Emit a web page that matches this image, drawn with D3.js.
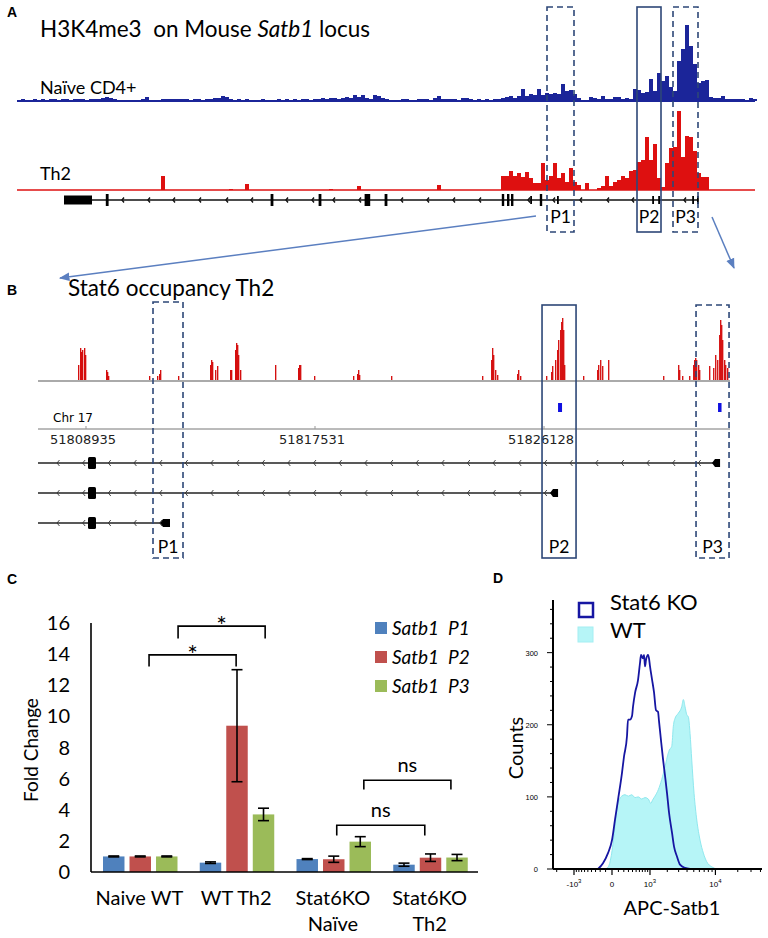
<!DOCTYPE html>
<html><head><meta charset="utf-8">
<script src="https://cdn.jsdelivr.net/npm/d3@7"></script>
<style>body{margin:0;background:#fff}svg{display:block}</style>
</head><body>
<svg id="c" width="768" height="938"></svg>
<script>
// ---------------- DATA ----------------
// Panel A: H3K4me3 signal, 1 bin = 1 locus unit
const naiveH3K4me3 = [1,2,1,1,2,1,2,1,2,2, 1,2,2,1,2,2,2,1,2,2, 2,3,4,3,2,1,1,1,1,1, 1,2,4,1,1,1,2,2,2,2,
 2,2,2,1,2,2,1,2,2,3, 3,5,4,2,1,2,1,2,1,1, 1,2,1,1,1,2,1,2,1,2, 1,2,2,1,2,2,3,2,3,3, 2,3,4,3,6,4,6,3,2,6,
 5,3,2,1,1,1,2,2,1,1, 2,2,2,1,3,5,2,2,2,2, 1,3,3,2,1,2,
 1,2,1,2,2,3,4,5,3,5, 12,5,7,6,12,6,8,7,8,7, 17,10,11,7,3,1,1,4,3,2, 5,2,2,4,4,2,3,2,12,11,
 8,9,22,10,28,20,25,14,10,40, 52,76,55,37,18,20,21,4,3,3, 5,2,2,2,2,2,1,3,2];
const th2H3K4me3 = [0,0,0,0,0,0,0,0,0,0, 0,0,0,0,0,0,0,0,0,0, 0,0,0,0,0,0,0,0,0,0, 0,0,0,0,0,0,14,0,0,0,
 0,0,0,0,0,0,0,0,0,0, 0,0,0,1,0,0,0,6,0,0, 0,0,0,0,0,0,0,0,0,0, 0,0,0,0,0,0,0,0,1,0,
 0,0,0,0,0,4,0,0,0,0, 0,0,0,0,0,0,0,0,0,0, 0,0,0,0,0,5,0,0,0,0, 0,0,0,0,0,0,0,0,0,0,
 0,14,14,19,14,17,13,18,12,7, 7,27,10,14,27,12,17,8,22,8, 5,0,7,0,0,2,4,14,4,8,
 10,14,12,19,20,28,30,53,30,46, 12,3,27,42,43,79,33,54,53,39, 17,13,13,0,0,0,0,0,0,0, 0,0,0,0,0];
// gene model (locus units): [start, end, kind]
const locusExons = [[11.75,18.75,"utr"],[22.2,22.9,"tall"],[63.4,64.1,"tall"],[75.4,76.1,"tall"],[86.9,88.3,"tall"],
 [91.9,92.6,"tall"],[121.2,121.8,"tall"],[122.5,123.1,"tall"],[123.5,124.1,"tall"],[130.7,131.3,"tall"],
 [128.3,128.7,"mid"],[135.0,135.4,"mid"],[158.8,159.2,"mid"],[160.3,160.7,"mid"],[168.8,169.2,"mid"],[170.0,170.4,"mid"]];
const locusChevrons = [26.25,32.75,39,45.5,52.25,58.5,67.25,73.75,79,85.5,96,102.5,109,115.5,127.75,134,140.75,147.5,153.75,166.75];
const locusGeneSpan = [18.75,170.3];
const promotersA = [["P1",132.5,139.25,"dash"],["P2",155,161,"solid"],["P3",164,170.25,"dash"]];

// Panel B: Stat6 ChIP-seq (chr17 bp, signal)
const stat6Pos = [51808635,51808710,51808747,51808785,51808860,51808897,51809686,51809723,51809761,51811300,
 51811600,51811675,51811713,51812389,51813590,51813628,51813665,51813778,51813853,51814341,51814378,
 51814528,51814566,51814604,51814641,51814716,51816030,51816893,51816931,51816969,51817494,
 51818958,51819108,51819146,51819183,51820385,51823801,51824139,51824176,51824214,51824289,51824364,
 51825115,51825152,51825227,51826203,51826391,51826429,51826541,51826616,51826654,51826729,51826767,
 51826804,51826842,51826879,51827592,51828118,51828155,51828231,51828306,51828531,51830596,51831159,
 51831196,51831309,51831572,51831722,51831759,51831797,51831834,51831909,51831947,51832322,51832473,
 51832548,51832623,51832698,51832735,51832773,51832810,51832885,51832923,51832998];
const stat6Signal = [15,32,28,30,32,25,10,8,4,4, 4,6,10,4,15,20,18,10,14,10,10, 30,37,35,25,10,15,12,15,15,4,
 4,6,10,5,4,4,20,32,25,10,5, 6,10,4,4,8,14,20,30,40,50,58, 62,50,15,4,10,15,20,14,20,4,15,
 10,4,4,15,20,22,20,15,10,14,12, 25,20,45,60,55,40,20,15,12];
const stat6Sites = [[51826654,51826804],[51832660,51832791]];
const genomicTicks = [51808935,51817531,51826128];
const chrDomain = [51807133,51833109];
const transcripts = [{end:51832547, tss:[51832547,51832735]},{end:51826466, tss:[51826466,51826654]},{end:51811825, tss:[51811825,51812088]}];
const sharedExon = [51809010,51809310];
const promotersB = [["P1",51811450,51812576,"dash",302],["P2",51826053,51827330,"solid",305],["P3",51831834,51833073,"dash",305]];

// Panel C: ChIP-qPCR fold change
const groups = ["Naive WT","WT Th2","Stat6KO\nNaïve","Stat6KO\nTh2"];
const seriesNames = ["Satb1","Satb1","Satb1"];
const seriesSuffix = ["P1","P2","P3"];
const p1Values = [1.0,0.6,0.83,0.47];
const p2Values = [1.0,9.4,0.82,0.92];
const p3Values = [1.0,3.7,1.95,0.93];
const p1Err = [0.03,0.05,0.03,0.1];
const p2Err = [0.03,3.6,0.2,0.24];
const p3Err = [0.03,0.4,0.32,0.2];
const yTicksC = [0,2,4,6,8,10,12,14,16];
// brackets: [group a, frac a, group b, frac b, top value, leg value, label]
const brackets = [[0,0.6,1,0.5,13.95,13.2,"*"],[0,0.9,1,0.8,15.8,15.0,"*"],[2,0.54,3,0.45,3.0,2.35,"ns"],[2,0.82,3,0.72,5.9,5.3,"ns"]];

// Panel D: flow cytometry histograms
const koAPC = [-245,-146,-60,0,44,93,164,204,267,290,337,387,413,468,556,620,653,722,759,796,835,916,957,1001,1092,1189,1292,1400,1457,1577,1705,1839,1982,2134,2379,2555,2840,3152,3738,4420];
const koCounts = [0,8,22,40,68,96,133,156,184,207,207,212,225,244,262,286,297,292,297,281,290,297,292,281,263,245,220,218,205,178,152,129,105,78,50,31,17,6,1.5,0];
const wtAPC = [-110,-55,-4,44,81,115,159,224,297,379,468,565,677,796,928,1033,1126,1239,1418,1620,1839,2079,2157,2353,2492,2648,2972,3341,3529,3738,3958,4176,4420,4677,5043,5514,6135,6823,7606,8911,10434];
const wtCounts = [0,3,22,59,87,96,101,103,101,103,99,100,97,99,97,91,96,101,110,124,142,161,165,170,198,209,216,225,235,225,214,211,188,151,105,68,40,22,10,3,0];
const yTicksD = [0,100,200,300];
const xTicksD = [[-1000,"-10","3"],[0,"0",""],[1000,"10","3"],[10000,"10","4"]];

// ---------------- DRAW ----------------
const SANS = 'Lato, "Open Sans", sans-serif';
const IGV = '"DejaVu Sans", sans-serif';
const ARIAL = '"Liberation Sans", Arial, sans-serif';
const BOX = "#2d4777";
const svg = d3.select("#c");
const defs = svg.append("defs");
defs.append("marker").attr("id","arr").attr("viewBox","0 0 10 10").attr("refX",9).attr("refY",5)
  .attr("markerWidth",7).attr("markerHeight",7).attr("orient","auto")
  .append("path").attr("d","M0,1 L10,5 L0,9 z").attr("fill","#5b7fc0");

[["A",7,17],["B",7,295],["C",7,584],["D",493,583]].forEach(([t,x,y])=>
  svg.append("text").attr("x",x).attr("y",y).text(t).attr("font-family",ARIAL).attr("font-weight","bold").attr("font-size",14));

// ===== Panel A =====
const gA = svg.append("g");
const xA = d3.scaleLinear().domain([0, naiveH3K4me3.length]).range([17, 757]);
const hA = d3.scaleLinear().domain([0, 80]).range([0, 80]);
const title = gA.append("text").attr("x",40).attr("y",37).attr("font-family",SANS).attr("font-size",22.5).style("white-space","pre");
title.append("tspan").text("H3K4me3  on Mouse ");
title.append("tspan").attr("font-style","italic").text("Satb1");
title.append("tspan").text(" locus");
gA.append("text").attr("x",40).attr("y",94).attr("font-family",SANS).attr("font-size",18).text("Naïve CD4+");
gA.append("text").attr("x",40).attr("y",180).attr("font-family",SANS).attr("font-size",18).text("Th2");

function trackA(data, base, color, lw){
  gA.append("g").selectAll("rect").data(data).join("rect")
    .attr("x",(d,i)=>xA(i)).attr("width",(d,i)=>xA(i+1)-xA(i)+0.4)
    .attr("y",d=>base-hA(d)).attr("height",d=>hA(d)).attr("fill",color).attr("shape-rendering","crispEdges");
  gA.append("line").attr("x1",xA(0)).attr("x2",xA(data.length)-2).attr("y1",base).attr("y2",base).attr("stroke",color).attr("stroke-width",lw);
}
trackA(naiveH3K4me3, 101, "#1b2599", 2.2);
trackA(th2H3K4me3, 190, "#de1010", 1.3);

// gene track
const gy = 200;
gA.append("line").attr("x1",xA(locusGeneSpan[0])).attr("x2",xA(locusGeneSpan[1])).attr("y1",gy).attr("y2",gy).attr("stroke","#111").attr("stroke-width",1.3);
gA.selectAll(".ex").data(locusExons).join("rect")
  .attr("x",d=>xA(d[0])).attr("width",d=>Math.max(1.8,xA(d[1])-xA(d[0])))
  .attr("y",d=>gy-(d[2]==="utr"?4.5:d[2]==="tall"?6:4)).attr("height",d=>d[2]==="utr"?9:d[2]==="tall"?12:8).attr("fill","#000");
gA.selectAll(".ch").data(locusChevrons).join("path")
  .attr("d",d=>`M${xA(d)+2},${gy-2.5}L${xA(d)},${gy}L${xA(d)+2},${gy+2.5}`).attr("fill","none").attr("stroke","#111").attr("stroke-width",1.4);

promotersA.forEach(([lab,s,e,st])=>{
  gA.append("rect").attr("x",xA(s)).attr("y",7).attr("width",xA(e)-xA(s)).attr("height",225)
    .attr("fill","none").attr("stroke",BOX).attr("stroke-width",1.6).attr("stroke-dasharray",st==="dash"?"6,4":null);
  gA.append("text").attr("x",(xA(s)+xA(e))/2).attr("y",223).attr("text-anchor","middle").attr("font-family",SANS).attr("font-size",17.5).text(lab);
});
// zoom arrows
gA.append("line").attr("x1",536).attr("y1",216).attr("x2",60).attr("y2",278).attr("stroke","#5b7fc0").attr("stroke-width",1.5).attr("marker-end","url(#arr)");
gA.append("line").attr("x1",712).attr("y1",217).attr("x2",734).attr("y2",268).attr("stroke","#5b7fc0").attr("stroke-width",1.5).attr("marker-end","url(#arr)");

// ===== Panel B =====
const gB = svg.append("g");
const xB = d3.scaleLinear().domain(chrDomain).range([38, 730]);
const hB = d3.scaleLinear().domain([0, 65]).range([0, 65]);
const baseB = 381;
gB.append("text").attr("x",68).attr("y",296).attr("font-family",SANS).attr("font-size",22.5).text("Stat6 occupancy Th2");
gB.append("line").attr("x1",38).attr("x2",730).attr("y1",baseB).attr("y2",baseB).attr("stroke","#aaa").attr("stroke-width",2);
gB.append("g").selectAll("rect").data(stat6Pos).join("rect")
  .attr("x",d=>xB(d)).attr("width",d=>Math.max(1.3,xB(d+50)-xB(d)))
  .attr("y",(d,i)=>baseB-1-hB(stat6Signal[i])).attr("height",(d,i)=>hB(stat6Signal[i])).attr("fill","#d40d0d");
gB.selectAll(".site").data(stat6Sites).join("rect")
  .attr("x",d=>xB(d[0])).attr("width",d=>xB(d[1])-xB(d[0])).attr("y",403).attr("height",9).attr("fill","#1010e0");
gB.append("text").attr("x",53).attr("y",422).attr("font-family",IGV).attr("font-size",12).text("Chr 17");
gB.append("line").attr("x1",38).attr("x2",730).attr("y1",429).attr("y2",429).attr("stroke","#777").attr("stroke-width",1);
genomicTicks.forEach(t=>{
  gB.append("line").attr("x1",xB(t)).attr("x2",xB(t)).attr("y1",426).attr("y2",429).attr("stroke","#999");
  gB.append("text").attr("x",xB(t)-3).attr("y",444).attr("text-anchor","middle").attr("font-family",IGV).attr("font-size",13).attr("fill","#222").text(t);
});
const tyB = [463,493,523];
transcripts.forEach((tr,k)=>{
  const y = tyB[k];
  gB.append("line").attr("x1",38).attr("x2",xB(tr.end)).attr("y1",y).attr("y2",y).attr("stroke","#222").attr("stroke-width",1.3);
  gB.append("rect").attr("x",xB(sharedExon[0])).attr("width",xB(sharedExon[1])-xB(sharedExon[0])).attr("y",y-6).attr("height",12).attr("rx",1.5).attr("fill","#000");
  const x0=xB(tr.tss[0]), x1=xB(tr.tss[1]);
  gB.append("path").attr("d",`M${x0-3},${y}L${x0},${y-4}L${x1},${y-4}L${x1},${y+4}L${x0},${y+4}Z`).attr("fill","#000");
  d3.range(57, xB(tr.end)-3, 25.65).forEach(cx=>{
    gB.append("path").attr("d",`M${cx+2.5},${y-3}L${cx},${y}L${cx+2.5},${y+3}`).attr("fill","none").attr("stroke","#333").attr("stroke-width",0.9);
  });
});
promotersB.forEach(([lab,s,e,st,top])=>{
  gB.append("rect").attr("x",xB(s)).attr("y",top).attr("width",xB(e)-xB(s)).attr("height",558-top)
    .attr("fill","none").attr("stroke",BOX).attr("stroke-width",1.6).attr("stroke-dasharray",st==="dash"?"6,4":null);
  gB.append("text").attr("x",(xB(s)+xB(e))/2).attr("y",553).attr("text-anchor","middle").attr("font-family",SANS).attr("font-size",17.5).text(lab);
});

// ===== Panel C =====
const gC = svg.append("g");
const xC = d3.scaleBand().domain(groups).range([91, 478]);
const xSub = d3.scaleBand().domain([0,1,2]).range([12, 86.5]).paddingInner(0.19);
const yC = d3.scaleLinear().domain([0,16]).range([872, 623]);
const colorsC = ["#4f81bd","#c0504d","#9bbb59"];
const vals = [p1Values,p2Values,p3Values], errs = [p1Err,p2Err,p3Err];
vals.forEach((vs,s)=>{
  gC.append("g").selectAll("rect").data(vs).join("rect")
    .attr("x",(d,i)=>xC(groups[i])+xSub(s)).attr("width",xSub.bandwidth())
    .attr("y",d=>yC(d)).attr("height",d=>yC(0)-yC(d)).attr("fill",colorsC[s]);
});
vals.forEach((vs,s)=>{
  vs.forEach((v,i)=>{
    const cx = xC(groups[i])+xSub(s)+xSub.bandwidth()/2, e=errs[s][i];
    const g = gC.append("g").attr("stroke","#000").attr("stroke-width",1.6);
    g.append("line").attr("x1",cx).attr("x2",cx).attr("y1",yC(v-e)).attr("y2",yC(v+e));
    g.append("line").attr("x1",cx-5.5).attr("x2",cx+5.5).attr("y1",yC(v-e)).attr("y2",yC(v-e));
    g.append("line").attr("x1",cx-5.5).attr("x2",cx+5.5).attr("y1",yC(v+e)).attr("y2",yC(v+e));
  });
});
gC.append("line").attr("x1",91).attr("x2",91).attr("y1",yC(16)).attr("y2",yC(0)).attr("stroke","#000").attr("stroke-width",1.6);
gC.append("line").attr("x1",91).attr("x2",478).attr("y1",yC(0)).attr("y2",yC(0)).attr("stroke","#000").attr("stroke-width",1.6);
yTicksC.forEach(t=>gC.append("text").attr("x",70).attr("y",yC(t)+7).attr("text-anchor","end").attr("font-family",SANS).attr("font-size",20).text(t));
gC.append("text").attr("transform","translate(38,750) rotate(-90)").attr("text-anchor","middle").attr("font-family",SANS).attr("font-size",19).text("Fold Change");
groups.forEach(gname=>{
  const lines = gname.split("\n"), cx = xC(gname)+xC.bandwidth()/2;
  lines.forEach((l,k)=>gC.append("text").attr("x",cx).attr("y",905+k*26).attr("text-anchor","middle").attr("font-family",SANS).attr("font-size",20).text(l));
});
brackets.forEach(([ga,fa,gb,fb,top,leg,lab])=>{
  const x1 = xC(groups[ga])+fa*xC.bandwidth(), x2 = xC(groups[gb])+fb*xC.bandwidth();
  gC.append("path").attr("d",`M${x1},${yC(leg)}L${x1},${yC(top)}L${x2},${yC(top)}L${x2},${yC(leg)}`)
    .attr("fill","none").attr("stroke","#000").attr("stroke-width",1.6);
  if(lab==="*") gC.append("text").attr("x",(x1+x2)/2).attr("y",yC(top)+9).attr("text-anchor","middle").attr("font-family",SANS).attr("font-size",25).text("*");
  else gC.append("text").attr("x",(x1+x2)/2).attr("y",yC(top)-8).attr("text-anchor","middle").attr("font-family",SANS).attr("font-size",20).text("ns");
});
seriesNames.forEach((n,s)=>{
  const cy = 628 + s*29;
  gC.append("rect").attr("x",375).attr("y",cy-6).attr("width",12).attr("height",12).attr("fill",colorsC[s]);
  gC.append("text").attr("x",392).attr("y",cy+6.5).attr("font-family",SANS).attr("font-size",19).attr("font-style","italic").style("white-space","pre").text(n+"  "+seriesSuffix[s]);
});

// ===== Panel D =====
const gD = svg.append("g");
const xD = d3.scaleSymlog().constant(470).domain([-2290, 41900]).range([553, 762]);
const yD = d3.scaleLinear().domain([0, 373]).range([869, 600]);
const wtData = wtAPC.map((a,i)=>[a,wtCounts[i]]);
const koData = koAPC.map((a,i)=>[a,koCounts[i]]);
gD.append("path").datum(wtData).attr("d",d3.area().x(d=>xD(d[0])).y0(yD(0)).y1(d=>yD(d[1])).curve(d3.curveMonotoneX))
  .attr("fill","#b6f5f7").attr("stroke","#8fe8ee").attr("stroke-width",1);
gD.append("path").datum(koData).attr("d",d3.line().x(d=>xD(d[0])).y(d=>yD(d[1])).curve(d3.curveMonotoneX))
  .attr("fill","none").attr("stroke","#1616a2").attr("stroke-width",1.8);
gD.append("line").attr("x1",553).attr("x2",553).attr("y1",600).attr("y2",869).attr("stroke","#000").attr("stroke-width",2);
gD.append("line").attr("x1",553).attr("x2",762).attr("y1",869).attr("y2",869).attr("stroke","#000").attr("stroke-width",2);
d3.range(0,361,20).forEach(t=>{
  const major = t%100===0;
  gD.append("line").attr("x1",553-(major?6:3)).attr("x2",553).attr("y1",yD(t)).attr("y2",yD(t)).attr("stroke","#000").attr("stroke-width",1);
});
yTicksD.forEach(t=>gD.append("text").attr("x",538).attr("y",yD(t)+3).attr("text-anchor","end").attr("font-family",ARIAL).attr("font-size",7.5).text(t));
const minorD = [-2000].concat(d3.range(-900,0,100), d3.range(100,1000,100), d3.range(2000,10000,1000), d3.range(20000,41000,10000));
minorD.forEach(t=>gD.append("line").attr("x1",xD(t)).attr("x2",xD(t)).attr("y1",869).attr("y2",872).attr("stroke","#000").attr("stroke-width",1));
xTicksD.forEach(([v,base,sup])=>{
  gD.append("line").attr("x1",xD(v)).attr("x2",xD(v)).attr("y1",869).attr("y2",875).attr("stroke","#000").attr("stroke-width",1.2);
  const t = gD.append("text").attr("x",xD(v)).attr("y",887).attr("text-anchor","middle").attr("font-family",ARIAL).attr("font-size",8);
  t.append("tspan").text(base);
  if(sup) t.append("tspan").attr("dy",-4).attr("font-size",6).text(sup);
});
gD.append("text").attr("transform","translate(523,748) rotate(-90)").attr("text-anchor","middle").attr("font-family",SANS).attr("font-size",20).text("Counts");
gD.append("text").attr("x",672).attr("y",915).attr("text-anchor","middle").attr("font-family",SANS).attr("font-size",20).text("APC-Satb1");
gD.append("rect").attr("x",579).attr("y",603).attr("width",14).attr("height",14).attr("fill","none").attr("stroke","#1616a2").attr("stroke-width",2.5);
gD.append("rect").attr("x",578).attr("y",627).attr("width",15).attr("height",15).attr("fill","#b6f5f7").attr("stroke","#a4eef2");
gD.append("text").attr("x",610).attr("y",610).attr("font-family",SANS).attr("font-size",22).text("Stat6 KO");
gD.append("text").attr("x",610).attr("y",638).attr("font-family",SANS).attr("font-size",22).text("WT");
</script>
</body></html>
